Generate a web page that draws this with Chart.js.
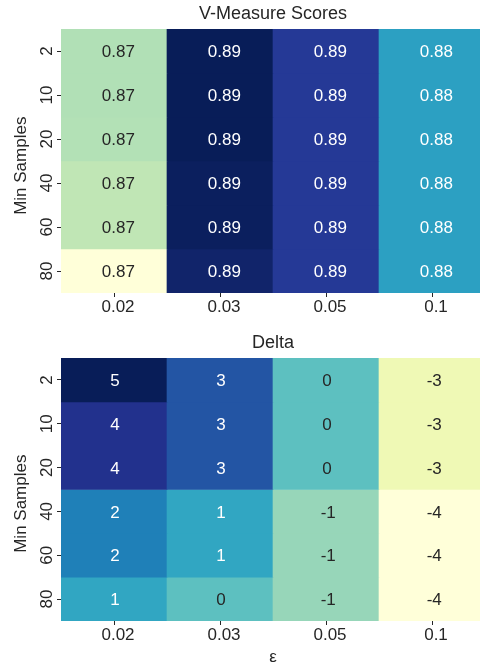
<!DOCTYPE html>
<html>
<head>
<meta charset="utf-8">
<script src="https://cdn.jsdelivr.net/npm/chart.js@4.4.1/dist/chart.umd.min.js"></script>
<style>
  html, body { margin: 0; padding: 0; background: #fff; width: 480px; height: 669px; overflow: hidden; }
  .panel { position: absolute; left: 0; width: 485px; }
  #topPanel { top: 0; height: 320px; }
  #bottomPanel { top: 320px; height: 349px; }
</style>
</head>
<body>
<div class="panel" id="topPanel"><canvas id="vmChart"></canvas></div>
<div class="panel" id="bottomPanel"><canvas id="deltaChart"></canvas></div>
<script>
// ── Data ──
var epsLabels = ['0.02', '0.03', '0.05', '0.1'];
var minSamples = ['2', '10', '20', '40', '60', '80'];

// V-Measure scores, one row per min_samples (columns follow epsLabels)
var vm2  = [0.8735, 0.8920, 0.8884, 0.8809];
var vm10 = [0.8735, 0.8920, 0.8884, 0.8809];
var vm20 = [0.8734, 0.8920, 0.8884, 0.8809];
var vm40 = [0.8728, 0.8917, 0.8884, 0.8809];
var vm60 = [0.8728, 0.8917, 0.8884, 0.8809];
var vm80 = [0.8660, 0.8910, 0.8884, 0.8809];
var vmRows = [vm2, vm10, vm20, vm40, vm60, vm80];

// Delta
var dl2  = [5, 3, 0, -3];
var dl10 = [4, 3, 0, -3];
var dl20 = [4, 3, 0, -3];
var dl40 = [2, 1, -1, -4];
var dl60 = [2, 1, -1, -4];
var dl80 = [1, 0, -1, -4];
var deltaRows = [dl2, dl10, dl20, dl40, dl60, dl80];

var INK = '#262626';

// ── YlGnBu colormap ──
var ylGnBu = ['#ffffd9', '#edf8b1', '#c7e9b4', '#7fcdbb', '#41b6c4', '#1d91c0', '#225ea8', '#253494', '#081d58'];
function hexRgb(h) {
    return [parseInt(h.substr(1, 2), 16), parseInt(h.substr(3, 2), 16), parseInt(h.substr(5, 2), 16)];
}
function cmapRgb(f) {
    f = Math.max(0, Math.min(1, f));
    var p = f * (ylGnBu.length - 1);
    var i = Math.min(ylGnBu.length - 2, Math.floor(p));
    var t = p - i;
    var a = hexRgb(ylGnBu[i]), b = hexRgb(ylGnBu[i + 1]);
    return [0, 1, 2].map(function(k) { return Math.round(a[k] + (b[k] - a[k]) * t); });
}
function textColorFor(rgb) {
    // same rule as seaborn annot: relative luminance > .408 -> dark text
    var lin = rgb.map(function(c) { c = c / 255; return c <= 0.03928 ? c / 12.92 : Math.pow((c + 0.055) / 1.055, 2.4); });
    var lum = 0.2126 * lin[0] + 0.7152 * lin[1] + 0.0722 * lin[2];
    return lum > 0.408 ? INK : '#ffffff';
}

Chart.defaults.font.family = '"Liberation Sans", Arial, sans-serif';
Chart.defaults.color = INK;

// cell annotations
var annotPlugin = {
    id: 'annot',
    afterDatasetsDraw: function(chart) {
        var ctx = chart.ctx;
        ctx.save();
        ctx.font = '17px "Liberation Sans", Arial, sans-serif';
        ctx.textAlign = 'center';
        ctx.textBaseline = 'middle';
        chart.data.datasets.forEach(function(ds, di) {
            var meta = chart.getDatasetMeta(di);
            meta.data.forEach(function(bar, ci) {
                var p = bar.getProps(['x', 'y', 'base'], true);
                var txt = ds.fmt(ds.cellValues[ci]);
                ctx.fillStyle = ds.textColors[ci];
                ctx.fillText(txt, p.x + txt.length * 1.1, (p.y + p.base) / 2 + 1.5);
            });
        });
        ctx.restore();
    }
};

function heatmap(canvasId, rows, opts) {
    var all = [].concat.apply([], rows);
    var vmin = Math.min.apply(null, all);
    var vmax = Math.max.apply(null, all);

    var datasets = rows.map(function(row, r) {
        var rgbs = row.map(function(v) { return cmapRgb((v - vmin) / (vmax - vmin)); });
        return {
            label: minSamples[r],
            data: row.map(function() { return 1; }),
            cellValues: row,
            fmt: opts.fmt,
            backgroundColor: rgbs.map(function(c) { return 'rgb(' + c.join(',') + ')'; }),
            textColors: rgbs.map(textColorFor),
            borderWidth: 0,
            barPercentage: 1,
            categoryPercentage: 1
        };
    });

    return new Chart(document.getElementById(canvasId).getContext('2d'), {
        type: 'bar',
        data: { labels: epsLabels, datasets: datasets },
        plugins: [annotPlugin],
        options: {
            responsive: true, maintainAspectRatio: false,
            animation: false, events: [],
            layout: { padding: 0 },
            plugins: {
                legend: { display: false },
                tooltip: { enabled: false },
                title: { display: false }
            },
            scales: {
                x: {
                    stacked: true,
                    offset: true,
                    grid: { display: true, drawOnChartArea: false, drawTicks: true, tickLength: 4, tickColor: INK, offset: false },
                    border: { display: false },
                    ticks: { font: { size: 17 }, color: INK, padding: 0, autoSkip: false, maxRotation: 0, labelOffset: 4 },
                    title: opts.xTitle ? { display: true, text: opts.xTitle, font: { size: 17 }, color: INK, padding: { top: 0, bottom: 1 } } : { display: false },
                    afterFit: function(s) { s.height = opts.xHeight; }
                },
                // top axis only carries the panel title, centred over the cells
                xTitle: {
                    type: 'category',
                    position: 'top',
                    offset: true,
                    grid: { display: false },
                    border: { display: false },
                    ticks: { display: false },
                    title: { display: true, text: opts.title, font: { size: 18 }, color: INK, padding: { top: opts.titleTop, bottom: 0 } },
                    afterFit: function(s) { s.height = opts.titleHeight; }
                },
                y: {
                    stacked: true,
                    reverse: true,
                    min: 0, max: rows.length,
                    grid: { display: true, drawOnChartArea: false, drawTicks: true, tickLength: 4, tickColor: INK },
                    border: { display: false },
                    afterBuildTicks: function(s) {
                        s.ticks = minSamples.map(function(_, i) { return { value: i + 0.5 }; });
                    },
                    ticks: {
                        font: { size: 17 }, color: INK,
                        minRotation: 90, maxRotation: 90, crossAlign: 'center', padding: 0, autoSkip: false,
                        callback: function(v, i) { return minSamples[i]; }
                    },
                    title: { display: true, text: opts.yTitle, font: { size: 17 }, color: INK, padding: { top: 11, bottom: 0 } },
                    afterFit: function(s) { s.width = 61; }
                }
            }
        }
    });
}

heatmap('vmChart', vmRows, {
    title: 'V-Measure Scores',
    titleTop: 3.7,
    titleHeight: 29,
    xHeight: 27,
    yTitle: 'Min Samples  ',
    fmt: function(v) { return v.toFixed(2); }
});

heatmap('deltaChart', deltaRows, {
    title: 'Delta',
    titleTop: 12.2,
    titleHeight: 38,
    xHeight: 48,
    xTitle: 'ε',
    yTitle: 'Min Samples      ',
    fmt: function(v) { return String(v); }
});
</script>
</body>
</html>
